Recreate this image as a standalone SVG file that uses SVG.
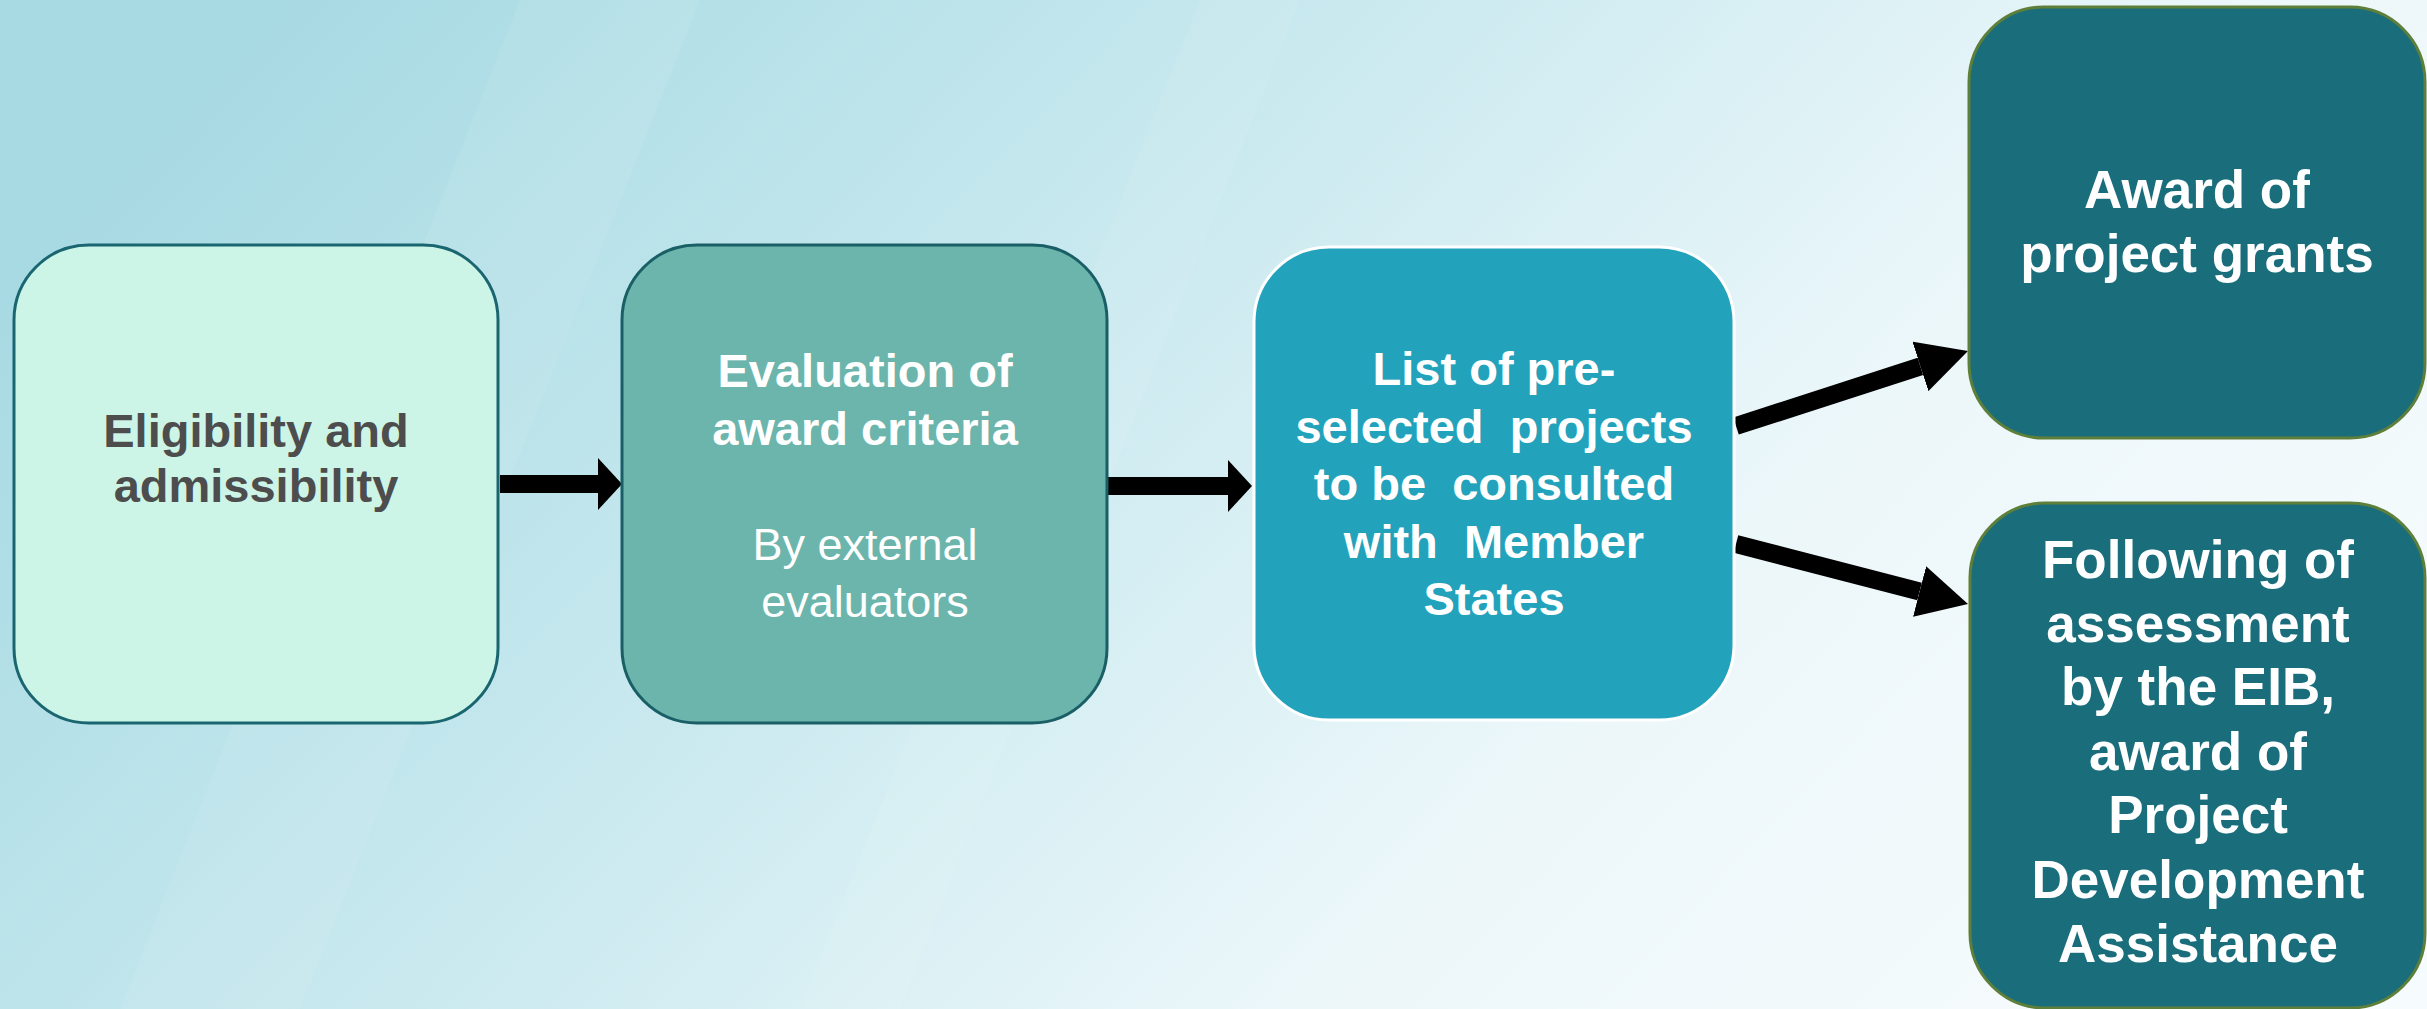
<svg xmlns="http://www.w3.org/2000/svg" width="2427" height="1009" viewBox="0 0 2427 1009">
  <defs>
    <linearGradient id="bg" x1="0" y1="0.3" x2="1" y2="0.7">
      <stop offset="0" stop-color="#a8dae3"/>
      <stop offset="0.35" stop-color="#c6e8ee"/>
      <stop offset="0.7" stop-color="#ecf7fa"/>
      <stop offset="1" stop-color="#f6fbfd"/>
    </linearGradient>
    <marker id="headShort" markerUnits="userSpaceOnUse" viewBox="0 0 24 52" markerWidth="24" markerHeight="52" refX="0" refY="26" orient="auto">
      <path d="M0,0 L24,26 L0,52 Z" fill="#000"/>
    </marker>
    <marker id="headLong" markerUnits="userSpaceOnUse" viewBox="0 0 50 52" markerWidth="50" markerHeight="52" refX="0" refY="26" orient="auto">
      <path d="M0,0 L50,26 L0,52 Z" fill="#000"/>
    </marker>
    <style>
      .box1 { fill: #ccf5e8; stroke: #1a6670; stroke-width: 3; }
      .box2 { fill: #6bb5ac; stroke: #1a5e66; stroke-width: 3; }
      .box3 { fill: #23a2bb; stroke: #ffffff; stroke-width: 3; }
      .box45 { fill: #1a6e7c; stroke: #5e7f3a; stroke-width: 3; }
      .t { font-family: "Liberation Sans", Arial, sans-serif; text-anchor: middle; white-space: pre; }
      .b { font-weight: bold; }
      .dark { fill: #4d4d4d; }
      .white { fill: #ffffff; }
      .conn { stroke: #000; stroke-width: 18; fill: none; }
    </style>
  </defs>

  <rect x="0" y="0" width="2427" height="1009" fill="url(#bg)"/>
  <g opacity="0.07" fill="#ffffff">
    <polygon points="520,0 700,0 300,1009 120,1009"/>
    <polygon points="1200,0 1300,0 900,1009 800,1009"/>
  </g>

  <g id="connectors">
    <line class="conn" x1="500" y1="484" x2="598" y2="484" marker-end="url(#headShort)"/>
    <line class="conn" x1="1108" y1="486" x2="1228" y2="486" marker-end="url(#headShort)"/>
    <line class="conn" x1="1736" y1="426" x2="1920.4" y2="366.4" marker-end="url(#headLong)"/>
    <line class="conn" x1="1736" y1="544" x2="1919.6" y2="591.5" marker-end="url(#headLong)"/>
  </g>

  <g id="node-eligibility">
    <rect class="box1" x="14" y="245" width="484" height="478" rx="75" ry="75"/>
    <text class="t b dark" font-size="47" x="256" y="447">Eligibility and</text>
    <text class="t b dark" font-size="47" x="256" y="502">admissibility</text>
  </g>

  <g id="node-evaluation">
    <rect class="box2" x="622" y="245" width="485" height="478" rx="75" ry="75"/>
    <text class="t b white" font-size="47" x="865" y="387">Evaluation of</text>
    <text class="t b white" font-size="47" x="865" y="445">award criteria</text>
    <text class="t white" font-size="45" x="865" y="560">By external</text>
    <text class="t white" font-size="45" x="865" y="617">evaluators</text>
  </g>

  <g id="node-list">
    <rect class="box3" x="1254" y="247" width="480" height="473" rx="75" ry="75"/>
    <text class="t b white" font-size="47" x="1494" y="385">List of pre-</text>
    <text class="t b white" font-size="47" x="1494" y="443">selected  projects</text>
    <text class="t b white" font-size="47" x="1494" y="500">to be  consulted</text>
    <text class="t b white" font-size="47" x="1494" y="558">with  Member</text>
    <text class="t b white" font-size="47" x="1494" y="615">States</text>
  </g>

  <g id="node-award">
    <rect class="box45" x="1969" y="7" width="456" height="431" rx="75" ry="75"/>
    <text class="t b white" font-size="53" x="2197" y="208">Award of</text>
    <text class="t b white" font-size="53" x="2197" y="272">project grants</text>
  </g>

  <g id="node-pda">
    <rect class="box45" x="1970" y="503" width="455" height="505" rx="75" ry="75"/>
    <text class="t b white" font-size="53" x="2198" y="578">Following of</text>
    <text class="t b white" font-size="53" x="2198" y="642">assessment</text>
    <text class="t b white" font-size="53" x="2198" y="705">by the EIB,</text>
    <text class="t b white" font-size="53" x="2198" y="770">award of</text>
    <text class="t b white" font-size="53" x="2198" y="833">Project</text>
    <text class="t b white" font-size="53" x="2198" y="898">Development</text>
    <text class="t b white" font-size="53" x="2198" y="962">Assistance</text>
  </g>
</svg>
